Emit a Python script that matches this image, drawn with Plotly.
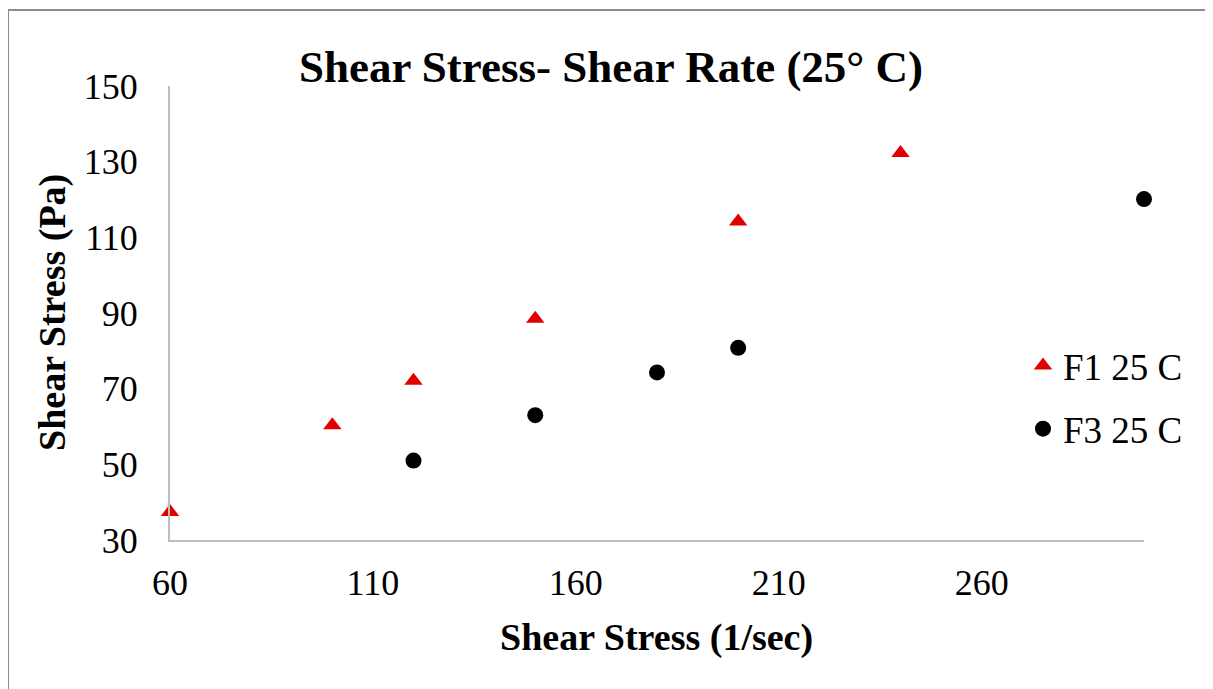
import plotly.graph_objects as go

# Data
f1_x = [60, 100, 120, 150, 200, 240]
f1_y = [37.4, 60.3, 72.1, 88.5, 114.2, 132.3]
f3_x = [120, 150, 180, 200, 300]
f3_y = [51.0, 63.0, 74.3, 80.8, 120.1]
x_ticks = [60, 110, 160, 210, 260]
y_ticks = [30, 50, 70, 90, 110, 130, 150]

OFF = 8  # page body margin
W, H = 1213 - OFF, 689 - OFF
L, R, T, B = 170 - OFF, 1144 - OFF, 86 - OFF, 540 - OFF

FONT = "Liberation Serif"

fig = go.Figure()
fig.add_trace(go.Scatter(
    x=f1_x, y=f1_y, mode="markers", name="F1 25 C", legendgroup="a",
    marker=dict(symbol="triangle-up", size=16, color="#E00000"),
    cliponaxis=False,
))
fig.add_trace(go.Scatter(
    x=f3_x, y=f3_y, mode="markers", name="F3 25 C", legendgroup="b",
    marker=dict(symbol="circle", size=16, color="#000000"),
    cliponaxis=False,
))

def px2x(px):
    return (px - OFF - L) / (R - L)

def py2y(py):
    return (B - (py - OFF)) / (B - T)

fig.update_layout(
    width=W, height=H,
    margin=dict(l=L, r=W - R, t=T, b=H - B, pad=0),
    paper_bgcolor="white", plot_bgcolor="white",
    font=dict(family=FONT, size=36, color="#000000"),
    title=dict(text="<b>Shear Stress- Shear Rate (25° C)</b>",
               x=(611 - OFF) / W, xanchor="center", y=1 - (66 - OFF) / H, yanchor="middle",
               font=dict(family=FONT, size=45, color="#000000")),
    xaxis=dict(range=[60, 300], tickvals=x_ticks, showgrid=False, zeroline=False,
               showline=True, linecolor="#BFBFBF", linewidth=2, ticks="",
               ticklabelstandoff=10, tickfont=dict(family=FONT, size=36)),
    yaxis=dict(range=[30, 150], tickvals=y_ticks, showgrid=False, zeroline=False,
               showline=True, linecolor="#BFBFBF", linewidth=2, ticks="",
               ticklabelstandoff=23, tickfont=dict(family=FONT, size=36)),
    legend=dict(x=px2x(1023), y=py2y(335), xanchor="left", yanchor="top",
                font=dict(family=FONT, size=37), tracegroupgap=12,
                traceorder="grouped", bgcolor="rgba(0,0,0,0)"),
    showlegend=True,
)

fig.add_annotation(text="<b>Shear Stress (1/sec)</b>", xref="paper", yref="paper",
                   x=px2x(656), y=py2y(637), showarrow=False,
                   font=dict(family=FONT, size=38), xanchor="center", yanchor="middle")
fig.add_annotation(text="<b>Shear Stress (Pa)</b>", xref="paper", yref="paper",
                   x=px2x(52), y=py2y(313), showarrow=False, textangle=-90,
                   font=dict(family=FONT, size=38), xanchor="center", yanchor="middle")

# outer chart border (top and left visible)
fig.add_shape(type="line", xref="paper", yref="paper",
              x0=px2x(8), x1=px2x(1260), y0=py2y(10), y1=py2y(10),
              line=dict(color="#8C8C8C", width=2))
fig.add_shape(type="line", xref="paper", yref="paper",
              x0=px2x(8), x1=px2x(8), y0=py2y(10), y1=py2y(720),
              line=dict(color="#8C8C8C", width=2))

fig.write_html("out.html")
